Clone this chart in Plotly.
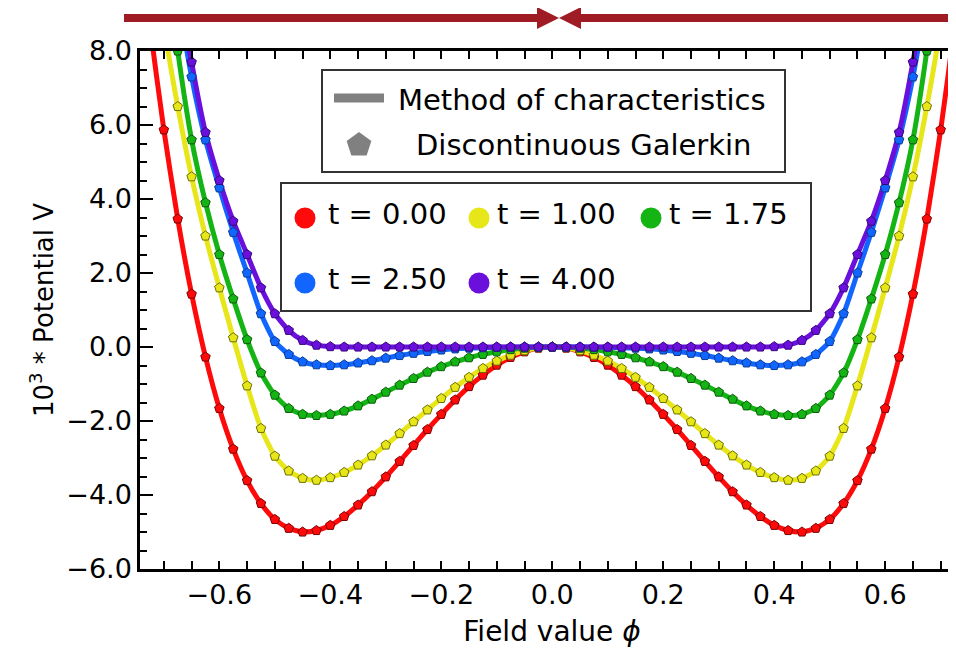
import math
import plotly.graph_objects as go

# ---------------- data ----------------
PHI = [-0.75, -0.725, -0.70, -0.675, -0.65, -0.625, -0.60, -0.575, -0.55, -0.525,
       -0.50, -0.475, -0.45, -0.425, -0.40, -0.375, -0.35, -0.325, -0.30, -0.275,
       -0.25, -0.225, -0.20, -0.175, -0.15, -0.125, -0.10, -0.075, -0.05, -0.025,
       0.0,
       0.025, 0.05, 0.075, 0.10, 0.125, 0.15, 0.175, 0.20, 0.225, 0.25,
       0.275, 0.30, 0.325, 0.35, 0.375, 0.40, 0.425, 0.45, 0.475, 0.50,
       0.525, 0.55, 0.575, 0.60, 0.625, 0.65, 0.675, 0.70, 0.725, 0.75]

V_T000 = [11.94, 8.68, 5.87, 3.46, 1.43, -0.27, -1.66, -2.76, -3.61, -4.23,
          -4.66, -4.90, -5.00, -4.96, -4.82, -4.58, -4.27, -3.91, -3.51, -3.09,
          -2.66, -2.23, -1.82, -1.43, -1.07, -0.76, -0.49, -0.28, -0.13, -0.03,
          0.0,
          -0.03, -0.13, -0.28, -0.49, -0.76, -1.07, -1.43, -1.82, -2.23, -2.66,
          -3.09, -3.51, -3.91, -4.27, -4.58, -4.82, -4.96, -5.00, -4.90, -4.66,
          -4.23, -3.61, -2.76, -1.66, -0.27, 1.43, 3.46, 5.87, 8.68, 11.94]

V_T100 = [15.0, 11.5, 8.7, 6.5, 4.6, 3.0, 1.6, 0.25, -1.05, -2.2,
          -2.95, -3.35, -3.55, -3.60, -3.53, -3.39, -3.19, -2.94, -2.65, -2.34,
          -2.02, -1.70, -1.39, -1.09, -0.82, -0.58, -0.38, -0.22, -0.10, -0.02,
          0.0,
          -0.02, -0.10, -0.22, -0.38, -0.58, -0.82, -1.09, -1.39, -1.70, -2.02,
          -2.34, -2.65, -2.94, -3.19, -3.39, -3.53, -3.60, -3.55, -3.35, -2.95,
          -2.2, -1.05, 0.25, 1.6, 3.0, 4.6, 6.5, 8.7, 11.5, 15.0]

V_T175 = [18.0, 14.5, 11.0, 8.0, 5.6, 3.9, 2.5, 1.3, 0.2, -0.70,
          -1.30, -1.66, -1.82, -1.85, -1.82, -1.73, -1.59, -1.41, -1.22, -1.03,
          -0.85, -0.68, -0.53, -0.40, -0.29, -0.20, -0.13, -0.07, -0.03, -0.005,
          0.0,
          -0.005, -0.03, -0.07, -0.13, -0.20, -0.29, -0.40, -0.53, -0.68, -0.85,
          -1.03, -1.22, -1.41, -1.59, -1.73, -1.82, -1.85, -1.82, -1.66, -1.30,
          -0.70, 0.2, 1.3, 2.5, 3.9, 5.6, 8.0, 11.0, 14.5, 18.0]

V_T250 = [18.0, 15.0, 12.0, 9.5, 7.3, 5.6, 4.3, 3.1, 2.0, 0.9,
          0.15, -0.20, -0.40, -0.48, -0.50, -0.48, -0.43, -0.37, -0.30, -0.23,
          -0.17, -0.12, -0.08, -0.05, -0.03, -0.02, -0.01, -0.005, 0.0, 0.0,
          0.0,
          0.0, 0.0, -0.005, -0.01, -0.02, -0.03, -0.05, -0.08, -0.12, -0.17,
          -0.23, -0.30, -0.37, -0.43, -0.48, -0.50, -0.48, -0.40, -0.20, 0.15,
          0.9, 2.0, 3.1, 4.3, 5.6, 7.3, 9.5, 12.0, 15.0, 18.0]

V_T400 = [19.0, 15.7, 12.7, 10.0, 7.7, 5.8, 4.5, 3.4, 2.5, 1.6,
          0.9, 0.45, 0.18, 0.05, 0.01, 0.0, 0.0, 0.0, 0.0, 0.0,
          0.0, 0.0, 0.0, 0.0, 0.0, 0.0, 0.0, 0.0, 0.0, 0.0,
          0.0,
          0.0, 0.0, 0.0, 0.0, 0.0, 0.0, 0.0, 0.0, 0.0, 0.0,
          0.0, 0.0, 0.0, 0.0, 0.0, 0.01, 0.05, 0.18, 0.45, 0.9,
          1.6, 2.5, 3.4, 4.5, 5.8, 7.7, 10.0, 12.7, 15.7, 19.0]

SERIES_NAMES = ["t = 0.00", "t = 1.00", "t = 1.75", "t = 2.50", "t = 4.00"]
SERIES_VALUES = [V_T000, V_T100, V_T175, V_T250, V_T400]
LINE_COLORS = ["#ff0a0a", "#e6e619", "#14b414", "#1166ff", "#6a0fdc"]
EDGE_COLORS = ["#7a0000", "#6e6e00", "#0a5a0a", "#0a3a90", "#35077a"]

X_TICKS = [-0.6, -0.4, -0.2, 0.0, 0.2, 0.4, 0.6]
Y_TICKS = [-6.0, -4.0, -2.0, 0.0, 2.0, 4.0, 6.0, 8.0]

FONT = "DejaVu Sans"
W, H = 956, 656
L, R, T, B = 132, 0, 43, 95
PW, PH = W - L - R, H - T - B


def px(x):
    return (x - L) / PW


def py(y):
    return (H - B - y) / PH


fig = go.Figure()

# Method of characteristics: lines
for name, vals, col in zip(SERIES_NAMES, SERIES_VALUES, LINE_COLORS):
    fig.add_trace(go.Scatter(x=PHI, y=vals, mode="lines", name=name,
                             line=dict(color=col, width=5, shape="spline", smoothing=0.6),
                             showlegend=False, hoverinfo="skip"))

# Discontinuous Galerkin: pentagon markers
for name, vals, col, ec in zip(SERIES_NAMES, SERIES_VALUES, LINE_COLORS, EDGE_COLORS):
    fig.add_trace(go.Scatter(x=PHI, y=vals, mode="markers", name=name,
                             marker=dict(symbol="pentagon", size=10, color=col,
                                         line=dict(color=ec, width=1)),
                             showlegend=False))

shapes = []
ann = []

# top arrows
AR = "#9f1c24"
AY = 10
shapes.append(dict(type="line", xref="paper", yref="paper", x0=px(116), x1=px(532),
                   y0=py(AY), y1=py(AY), line=dict(color=AR, width=8)))
shapes.append(dict(type="line", xref="paper", yref="paper", x0=px(570), x1=px(965),
                   y0=py(AY), y1=py(AY), line=dict(color=AR, width=8)))
shapes.append(dict(type="path", xref="paper", yref="paper",
                   path=f"M {px(529)} {py(AY - 11)} L {px(551)} {py(AY)} L {px(529)} {py(AY + 11)} Z",
                   fillcolor=AR, line=dict(color=AR, width=0)))
shapes.append(dict(type="path", xref="paper", yref="paper",
                   path=f"M {px(573)} {py(AY - 11)} L {px(551)} {py(AY)} L {px(573)} {py(AY + 11)} Z",
                   fillcolor=AR, line=dict(color=AR, width=0)))

# legend box 1 (methods)
shapes.append(dict(type="rect", xref="paper", yref="paper", x0=px(314), x1=px(777),
                   y0=py(164), y1=py(62), fillcolor="white", line=dict(color="#333", width=2)))
shapes.append(dict(type="line", xref="paper", yref="paper", x0=px(326), x1=px(376),
                   y0=py(90), y1=py(90), line=dict(color="#808080", width=9)))
cx, cy, rr = 351, 137, 13
pts = []
for k in range(5):
    a = math.radians(-90 + 72 * k)
    pts.append((cx + rr * math.cos(a), cy + rr * math.sin(a)))
path = "M " + " L ".join(f"{px(x)} {py(y)}" for x, y in pts) + " Z"
shapes.append(dict(type="path", xref="paper", yref="paper", path=path,
                   fillcolor="#808080", line=dict(color="#808080", width=0)))
ann.append(dict(text="Method of characteristics", x=px(388), y=py(92), xref="paper", yref="paper",
                xanchor="left", yanchor="middle", showarrow=False, font=dict(size=29, color="black", family=FONT)))
ann.append(dict(text="Discontinuous Galerkin", x=px(406), y=py(137), xref="paper", yref="paper",
                xanchor="left", yanchor="middle", showarrow=False, font=dict(size=29, color="black", family=FONT)))

# legend box 2 (times)
shapes.append(dict(type="rect", xref="paper", yref="paper", x0=px(273), x1=px(803),
                   y0=py(303), y1=py(175), fillcolor="white", line=dict(color="#333", width=2)))
LEG_POS = [(297, 210, 318), (471, 210, 487), (643, 210, 659), (297, 275, 318), (471, 275, 487)]
for (cxx, cyy, tx), name, col in zip(LEG_POS, SERIES_NAMES, LINE_COLORS):
    r = 10.5
    shapes.append(dict(type="circle", xref="paper", yref="paper",
                       x0=px(cxx - r), x1=px(cxx + r), y0=py(cyy + r), y1=py(cyy - r),
                       fillcolor=col, line=dict(color=col, width=0)))
    ann.append(dict(text=name, x=px(tx), y=py(cyy - 4), xref="paper", yref="paper",
                    xanchor="left", yanchor="middle", showarrow=False,
                    font=dict(size=29, color="black", family=FONT)))

fig.update_layout(
    width=W, height=H,
    margin=dict(l=L, r=R, t=T, b=B),
    paper_bgcolor="white", plot_bgcolor="white",
    font=dict(family=FONT, color="black"),
    shapes=shapes, annotations=ann,
    showlegend=False,
)
fig.update_xaxes(
    range=[-0.743, 0.742], tickvals=X_TICKS, ticktext=[f"{v:.1f}".replace("-", "\u2212") for v in X_TICKS],
    ticks="inside", ticklen=8, tickwidth=2, tickcolor="black",
    minor=dict(dtick=0.05, tick0=0, ticks="inside", ticklen=8, tickwidth=2, tickcolor="black", showgrid=False),
    showline=True, linewidth=2.5, linecolor="black", mirror="ticks",
    showgrid=False, zeroline=False,
    tickfont=dict(size=27, family=FONT, color="black"),
    title=dict(text="Field value <i>\u03d5</i>", font=dict(size=28, family=FONT, color="black"), standoff=13),
)
fig.update_yaxes(
    range=[-6, 8], tickvals=Y_TICKS, ticktext=[f"{v:.1f}".replace("-", "\u2212") for v in Y_TICKS],
    ticks="inside", ticklen=13, tickwidth=2, tickcolor="black",
    minor=dict(dtick=0.5, tick0=0, ticks="inside", ticklen=7, tickwidth=2, tickcolor="black", showgrid=False),
    showline=True, linewidth=2.5, linecolor="black",
    showgrid=False, zeroline=False,
    tickfont=dict(size=27, family=FONT, color="black"),
    title=dict(text="10<sup>3</sup> * Potential V", font=dict(size=26, family=FONT, color="black"), standoff=6),
)

fig.write_html("out.html")
